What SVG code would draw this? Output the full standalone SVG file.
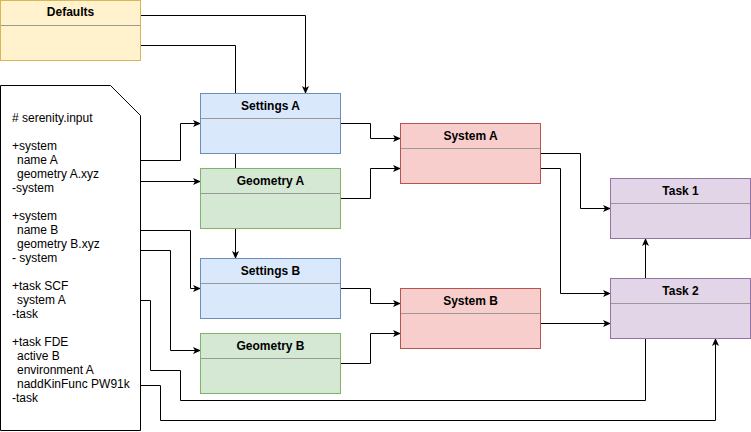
<svg xmlns="http://www.w3.org/2000/svg" width="751" height="432" viewBox="0 0 751 432">
<style>
.t{font-family:"Liberation Sans",Arial,sans-serif;font-size:12px;font-weight:bold;text-anchor:middle;fill:#000}
.d{font-family:"Liberation Sans",Arial,sans-serif;font-size:12px;fill:#000}
.e{fill:none;stroke:#000;stroke-width:1}
.a{marker-end:url(#arr)}
.sep{stroke:#999;stroke-width:1}
.def{fill:#fff2cc;stroke:#d6b656}
.set{fill:#dae8fc;stroke:#6c8ebf}
.geo{fill:#d5e8d4;stroke:#82b366}
.sys{fill:#f8cecc;stroke:#b85450}
.tsk{fill:#e1d5e7;stroke:#9673a6}
</style>
<defs>
<marker id="arr" viewBox="0 0 8 7" refX="7.5" refY="3.5" markerWidth="8" markerHeight="7" markerUnits="userSpaceOnUse" orient="auto">
<path d="M0,0 L8,3.5 L0,7 L2,3.5 z" fill="#000"/>
</marker>
</defs>
<rect width="751" height="432" fill="#fff"/>
<g id="connectors">
<path class="e a" d="M140.5,15.5 H305.5 V93.5"/>
<path class="e a" d="M140.5,45.5 H235.5 V258.5"/>
<path class="e a" d="M140.5,160.5 H180.5 V123.5 H200.5"/>
<path class="e a" d="M140.5,181.5 H200.5"/>
<path class="e a" d="M140.5,230.5 H190.5 V288.5 H200.5"/>
<path class="e a" d="M140.5,250.5 H170.5 V350.5 H200.5"/>
<path class="e a" d="M140.5,300.5 H150.5 V370.5 H180.5 V400.5 H645.5 V238.5"/>
<path class="e a" d="M140.5,385.5 H160.5 V420.5 H715.5 V338.5"/>
<path class="e a" d="M340.5,123.5 H370.5 V138.5 H400.5"/>
<path class="e a" d="M340.5,198.5 H370.5 V168.5 H400.5"/>
<path class="e a" d="M340.5,288.5 H370.5 V303.5 H400.5"/>
<path class="e a" d="M340.5,363.5 H370.5 V333.5 H400.5"/>
<path class="e a" d="M540.5,153.5 H580.5 V208.5 H610.5"/>
<path class="e a" d="M540.5,168.5 H560.5 V293.5 H610.5"/>
<path class="e a" d="M540.5,323.5 H610.5"/>
</g>
<g id="defaults">
<rect class="def" x="0.5" y="0.5" width="140" height="60"/>
<line class="sep" x1="1" y1="25.5" x2="140" y2="25.5"/>
<text class="t" x="70.5" y="16">Defaults</text>
</g>
<g id="input">
<path d="M0.5,85.5 H110.5 L140.5,115.5 V430.5 H0.5 Z" fill="#fff" stroke="#000"/>
<text class="d" x="12" y="122"># serenity.input</text>
<text class="d" x="12" y="150">+system</text>
<text class="d" x="17" y="164">name A</text>
<text class="d" x="17" y="178">geometry A.xyz</text>
<text class="d" x="12" y="192">-system</text>
<text class="d" x="12" y="220">+system</text>
<text class="d" x="17" y="234">name B</text>
<text class="d" x="17" y="248">geometry B.xyz</text>
<text class="d" x="12" y="262">- system</text>
<text class="d" x="12" y="290">+task SCF</text>
<text class="d" x="17" y="304">system A</text>
<text class="d" x="12" y="318">-task</text>
<text class="d" x="12" y="346">+task FDE</text>
<text class="d" x="17" y="360">active B</text>
<text class="d" x="17" y="374">environment A</text>
<text class="d" x="17" y="388">naddKinFunc PW91k</text>
<text class="d" x="12" y="402">-task</text>
</g>
<g id="settingsA">
<rect class="set" x="200.5" y="93.5" width="140" height="60"/>
<line class="sep" x1="201" y1="118.5" x2="340" y2="118.5"/>
<text class="t" x="270.5" y="110">Settings A</text>
</g>
<g id="geometryA">
<rect class="geo" x="200.5" y="168.5" width="140" height="60"/>
<line class="sep" x1="201" y1="193.5" x2="340" y2="193.5"/>
<text class="t" x="270.5" y="185">Geometry A</text>
</g>
<g id="settingsB">
<rect class="set" x="200.5" y="258.5" width="140" height="60"/>
<line class="sep" x1="201" y1="283.5" x2="340" y2="283.5"/>
<text class="t" x="270.5" y="275">Settings B</text>
</g>
<g id="geometryB">
<rect class="geo" x="200.5" y="333.5" width="140" height="60"/>
<line class="sep" x1="201" y1="358.5" x2="340" y2="358.5"/>
<text class="t" x="270.5" y="350">Geometry B</text>
</g>
<g id="systemA">
<rect class="sys" x="400.5" y="123.5" width="140" height="60"/>
<line class="sep" x1="401" y1="148.5" x2="540" y2="148.5"/>
<text class="t" x="470.5" y="140">System A</text>
</g>
<g id="systemB">
<rect class="sys" x="400.5" y="288.5" width="140" height="60"/>
<line class="sep" x1="401" y1="313.5" x2="540" y2="313.5"/>
<text class="t" x="470.5" y="305">System B</text>
</g>
<g id="task1">
<rect class="tsk" x="610.5" y="178.5" width="140" height="60"/>
<line class="sep" x1="611" y1="203.5" x2="750" y2="203.5"/>
<text class="t" x="680.5" y="195">Task 1</text>
</g>
<g id="task2">
<rect class="tsk" x="610.5" y="278.5" width="140" height="60"/>
<line class="sep" x1="611" y1="303.5" x2="750" y2="303.5"/>
<text class="t" x="680.5" y="295">Task 2</text>
</g>
</svg>
